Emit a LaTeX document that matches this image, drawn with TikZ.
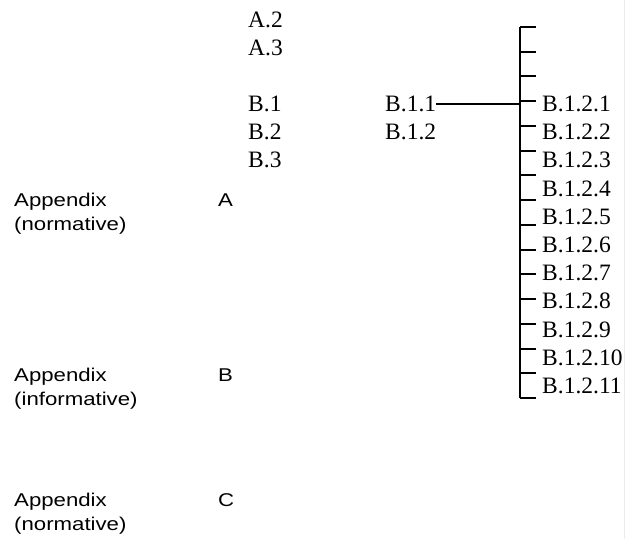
\documentclass[tikz,border=0pt]{standalone}
\usepackage{fontspec}
\setmainfont{Liberation Serif}
\newfontfamily\appfont[FakeStretch=1.2]{Liberation Sans}
\usetikzlibrary{positioning}

\tikzset{
	clause/.style={font=\fontsize{23.5}{28}\selectfont, inner sep=0pt, anchor=base west},
	appx/.style={font=\appfont\fontsize{18.5}{24.5}\selectfont, inner sep=0pt, anchor=base west, align=left},
	bar/.style={line width=2.6pt},
	tick/.style={line width=2pt},
}

\begin{document}
\begin{tikzpicture}[x=1pt,y=-1pt]
			\useasboundingbox (0,0) rectangle (627,539);
			\draw[black!8, line width=1.5pt] (624.5,0) -- (624.5,539);
			% appendix headings
			\node[appx] (appA) at (14,230.5) {Appendix\\(normative)};
			\node[appx] (appB) at (14,405.5) {Appendix\\(informative)};
			\node[appx] (appC) at (14,530.5) {Appendix\\(normative)};
			\node[appx] (letA) at (218,206) {A};
			\node[appx] (letB) at (218,381) {B};
			\node[appx] (letC) at (218,506) {C};
			% clauses
			\node[clause] (a2) at (248,27.5) {A.2};
			\node[clause] (a3) at (248,55.5) {A.3};
			\node[clause] (b1) at (248,111.5) {B.1};
			\node[clause] (b2) at (248,139.5) {B.2};
			\node[clause] (b3) at (248,167.5) {B.3};
			\node[clause] (b11) at (385,111.5) {B.1.1};
			\node[clause] (b12) at (385,139.5) {B.1.2};
			\foreach \n in {1,...,11}
				\node[clause] (b12\n) at (542,{111.5+28.2*(\n-1)}) {B.1.2.\n};
			% bracket
			\coordinate (bartop) at (520,27);
			\coordinate (barbot) at (520,398);
			\draw[bar] (bartop) -- (barbot);
			\foreach \k in {0,...,15} {
				\coordinate (t\k) at (520,{27+24.733*\k});
				\draw[tick] (t\k) -- ++(16,0);
			}
			\draw[tick] (b11.east) -- (b11.east -| bartop);
		\end{tikzpicture}
\end{document}
